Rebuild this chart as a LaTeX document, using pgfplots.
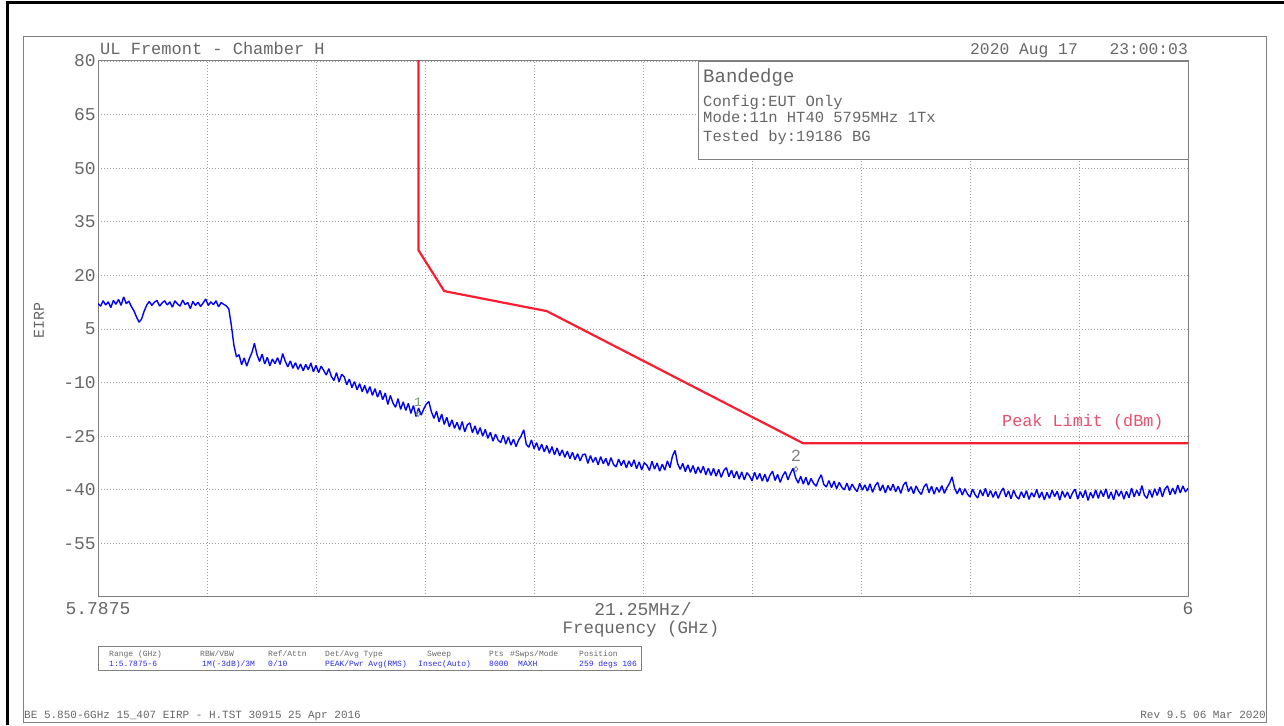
\documentclass[border=0pt]{standalone}
\usepackage{fontspec}
\setmainfont{Liberation Mono}
\usepackage{pgfplots}
\pgfplotsset{compat=1.18}

\definecolor{txtgray}{gray}{0.4}
\definecolor{framegray}{gray}{0.5}
\definecolor{limitred}{RGB}{250,30,50}
\definecolor{limittext}{RGB}{232,80,110}
\definecolor{tracecol}{RGB}{0,0,255}
\definecolor{tabblue}{RGB}{40,40,230}
\definecolor{mkgreen}{RGB}{120,150,110}

\newcommand{\fs}[1]{\fontsize{#1}{#1}\selectfont}

\begin{document}
\begin{tikzpicture}[x=1pt,y=1pt]
\useasboundingbox (0,0) rectangle (1284,725);
% page frame
\draw[black, line width=3pt] (7,0) -- (7,722) -- (1284,722);
\draw[framegray, line width=1pt] (23,3) rectangle (1266,688);

\begin{axis}[
    at={(98pt,128pt)}, anchor=south west,
    width=1090pt, height=536pt, scale only axis,
    xmin=5.7875, xmax=6, ymin=-70, ymax=80,
    xtick={5.7875,5.80875,5.83,5.85125,5.8725,5.89375,5.915,5.93625,5.9575,5.97875,6},
    xticklabels={5.7875,,,,,21.25MHz/,,,,,6},
    ytick={-55,-40,...,80},
    yticklabels={-55,-40,-25,-10,5,20,35,50,65,80},
    grid=major,
    major grid style={gray!75, line width=0.8pt, dash pattern=on 0.8pt off 2.2pt},
    major tick length=0pt,
    axis line style={framegray, line width=1pt},
    ticklabel style={font=\fs{18}, text=txtgray},
    xticklabel style={anchor=north, inner sep=0pt, yshift=-5pt},
    yticklabel style={anchor=east, inner sep=0pt, xshift=-2pt},
]
% measured trace
\addplot[tracecol, line width=1.4pt, line join=bevel] coordinates {
(5.7875,12.1)(5.7880,11.4)(5.7885,12.9)(5.7890,11.7)(5.7895,12.6)(5.7900,11.0)(5.7905,13.0)(5.7910,11.9)(5.7915,13.3)(5.7920,11.6)
(5.7925,14.0)(5.7930,12.1)(5.7935,12.8)(5.7940,11.3)(5.7945,10.1)(5.7950,8.4)(5.7955,6.9)(5.7960,7.8)(5.7965,10.0)(5.7970,11.7)
(5.7975,12.7)(5.7980,11.6)(5.7985,12.5)(5.7990,13.0)(5.7995,11.4)(5.8000,12.3)(5.8005,12.9)(5.8010,11.7)(5.8015,12.6)(5.8020,11.1)
(5.8025,12.9)(5.8030,12.0)(5.8035,11.4)(5.8040,13.1)(5.8045,11.8)(5.8050,12.4)(5.8055,10.7)(5.8060,12.7)(5.8065,11.6)(5.8070,12.5)
(5.8075,11.3)(5.8080,12.3)(5.8085,13.4)(5.8090,11.6)(5.8095,12.6)(5.8100,11.8)(5.8105,12.9)(5.8110,11.2)(5.8115,12.4)(5.8120,11.9)
(5.8125,11.5)(5.8130,10.6)(5.8135,6.0)(5.8140,0.4)(5.8145,-2.8)(5.8150,-2.2)(5.8155,-5.0)(5.8160,-3.1)(5.8165,-5.4)(5.8170,-3.3)
(5.8175,-1.6)(5.8180,1.0)(5.8185,-2.2)(5.8190,-4.1)(5.8195,-2.0)(5.8200,-4.8)(5.8205,-2.9)(5.8210,-5.3)(5.8215,-3.4)(5.8220,-4.7)
(5.8225,-3.0)(5.8230,-4.9)(5.8235,-1.9)(5.8240,-4.0)(5.8245,-5.6)(5.8250,-3.9)(5.8255,-6.0)(5.8260,-4.4)(5.8265,-6.3)(5.8270,-4.8)
(5.8275,-6.7)(5.8280,-4.9)(5.8285,-6.4)(5.8290,-4.5)(5.8295,-7.0)(5.8300,-5.2)(5.8305,-7.2)(5.8310,-5.4)(5.8315,-6.6)(5.8320,-7.9)
(5.8325,-6.1)(5.8330,-8.3)(5.8335,-9.4)(5.8340,-7.2)(5.8345,-9.8)(5.8350,-7.7)(5.8355,-8.4)(5.8360,-10.6)(5.8365,-9.0)(5.8370,-11.4)
(5.8375,-9.7)(5.8380,-12.0)(5.8385,-10.3)(5.8390,-12.5)(5.8395,-10.8)(5.8400,-13.0)(5.8405,-11.1)(5.8410,-13.6)(5.8415,-11.7)(5.8420,-14.1)
(5.8425,-12.2)(5.8430,-14.8)(5.8435,-12.9)(5.8440,-16.1)(5.8445,-13.6)(5.8450,-15.7)(5.8455,-16.9)(5.8460,-14.5)(5.8465,-17.5)(5.8470,-15.4)
(5.8475,-17.8)(5.8480,-15.8)(5.8485,-18.6)(5.8490,-16.4)(5.8495,-19.5)(5.8500,-17.1)(5.8505,-19.1)(5.8510,-17.4)(5.8515,-16.0)(5.8520,-15.3)
(5.8525,-18.2)(5.8530,-20.0)(5.8535,-18.0)(5.8540,-21.0)(5.8545,-18.8)(5.8550,-21.7)(5.8555,-19.7)(5.8560,-22.4)(5.8565,-20.4)(5.8570,-22.8)
(5.8575,-21.1)(5.8580,-23.3)(5.8585,-20.9)(5.8590,-23.8)(5.8595,-21.8)(5.8600,-21.3)(5.8605,-24.0)(5.8610,-22.1)(5.8615,-24.5)(5.8620,-22.6)
(5.8625,-25.0)(5.8630,-23.1)(5.8635,-25.6)(5.8640,-23.9)(5.8645,-26.4)(5.8650,-24.4)(5.8655,-26.1)(5.8660,-26.8)(5.8665,-24.7)(5.8670,-27.2)
(5.8675,-25.2)(5.8680,-27.5)(5.8685,-25.8)(5.8690,-27.9)(5.8695,-26.1)(5.8700,-24.9)(5.8705,-23.2)(5.8710,-27.3)(5.8715,-28.1)(5.8720,-26.0)
(5.8725,-28.5)(5.8730,-26.8)(5.8735,-29.0)(5.8740,-27.2)(5.8745,-29.4)(5.8750,-27.6)(5.8755,-29.8)(5.8760,-27.9)(5.8765,-30.2)(5.8770,-28.3)
(5.8775,-30.5)(5.8780,-28.8)(5.8785,-30.9)(5.8790,-29.2)(5.8795,-31.3)(5.8800,-29.5)(5.8805,-31.6)(5.8810,-29.9)(5.8815,-31.9)(5.8820,-30.2)
(5.8825,-30.0)(5.8830,-32.6)(5.8835,-30.4)(5.8840,-32.3)(5.8845,-30.9)(5.8850,-33.0)(5.8855,-30.7)(5.8860,-32.7)(5.8865,-31.2)(5.8870,-33.3)
(5.8875,-31.0)(5.8880,-32.9)(5.8885,-33.6)(5.8890,-31.4)(5.8895,-33.2)(5.8900,-31.7)(5.8905,-33.9)(5.8910,-31.9)(5.8915,-33.5)(5.8920,-31.6)
(5.8925,-34.1)(5.8930,-32.2)(5.8935,-34.4)(5.8940,-32.4)(5.8945,-33.1)(5.8950,-34.6)(5.8955,-32.0)(5.8960,-34.2)(5.8965,-32.5)(5.8970,-34.8)
(5.8975,-32.8)(5.8980,-34.5)(5.8985,-31.9)(5.8990,-33.8)(5.8995,-30.5)(5.9000,-29.0)(5.9005,-32.7)(5.9010,-34.3)(5.9015,-32.6)(5.9020,-34.9)
(5.9025,-33.0)(5.9030,-35.1)(5.9035,-33.2)(5.9040,-35.5)(5.9045,-33.6)(5.9050,-35.3)(5.9055,-33.4)(5.9060,-35.8)(5.9065,-33.9)(5.9070,-36.0)
(5.9075,-34.0)(5.9080,-36.2)(5.9085,-34.3)(5.9090,-36.5)(5.9095,-34.6)(5.9100,-33.8)(5.9105,-36.3)(5.9110,-34.5)(5.9115,-36.7)(5.9120,-34.8)
(5.9125,-37.0)(5.9130,-35.0)(5.9135,-37.2)(5.9140,-35.2)(5.9145,-36.1)(5.9150,-37.5)(5.9155,-35.1)(5.9160,-37.1)(5.9165,-35.4)(5.9170,-37.6)
(5.9175,-35.6)(5.9180,-37.8)(5.9185,-35.9)(5.9190,-34.8)(5.9195,-37.4)(5.9200,-35.7)(5.9205,-37.9)(5.9210,-36.0)(5.9215,-34.9)(5.9220,-37.2)
(5.9225,-35.4)(5.9230,-34.0)(5.9235,-36.6)(5.9240,-38.1)(5.9245,-36.2)(5.9250,-38.4)(5.9255,-36.5)(5.9260,-38.7)(5.9265,-36.8)(5.9270,-38.2)
(5.9275,-39.0)(5.9280,-37.1)(5.9285,-35.8)(5.9290,-38.5)(5.9295,-39.2)(5.9300,-37.4)(5.9305,-39.4)(5.9310,-37.6)(5.9315,-39.7)(5.9320,-37.9)
(5.9325,-39.3)(5.9330,-40.0)(5.9335,-38.1)(5.9340,-40.2)(5.9345,-38.4)(5.9350,-39.6)(5.9355,-40.5)(5.9360,-38.2)(5.9365,-40.1)(5.9370,-38.6)
(5.9375,-40.4)(5.9380,-38.3)(5.9385,-40.7)(5.9390,-38.9)(5.9395,-37.9)(5.9400,-40.3)(5.9405,-38.6)(5.9410,-40.9)(5.9415,-38.8)(5.9420,-40.2)
(5.9425,-38.4)(5.9430,-40.6)(5.9435,-39.0)(5.9440,-41.0)(5.9445,-38.7)(5.9450,-37.8)(5.9455,-40.5)(5.9460,-39.1)(5.9465,-41.1)(5.9470,-38.9)
(5.9475,-40.4)(5.9480,-41.3)(5.9485,-39.2)(5.9490,-38.3)(5.9495,-40.8)(5.9500,-39.0)(5.9505,-41.2)(5.9510,-39.3)(5.9515,-40.7)(5.9520,-38.8)
(5.9525,-41.0)(5.9530,-39.4)(5.9535,-38.2)(5.9540,-36.4)(5.9545,-39.6)(5.9550,-41.1)(5.9555,-39.5)(5.9560,-41.5)(5.9565,-39.7)(5.9570,-41.2)
(5.9575,-42.0)(5.9580,-39.8)(5.9585,-41.4)(5.9590,-42.3)(5.9595,-40.0)(5.9600,-41.7)(5.9605,-39.6)(5.9610,-41.9)(5.9615,-40.2)(5.9620,-42.1)
(5.9625,-40.4)(5.9630,-42.4)(5.9635,-40.6)(5.9640,-39.5)(5.9645,-42.0)(5.9650,-40.3)(5.9655,-42.5)(5.9660,-40.1)(5.9665,-41.8)(5.9670,-42.6)
(5.9675,-40.5)(5.9680,-42.2)(5.9685,-40.2)(5.9690,-42.7)(5.9695,-40.8)(5.9700,-42.0)(5.9705,-39.9)(5.9710,-42.3)(5.9715,-40.6)(5.9720,-42.8)
(5.9725,-40.7)(5.9730,-42.4)(5.9735,-40.1)(5.9740,-41.9)(5.9745,-40.4)(5.9750,-42.9)(5.9755,-40.3)(5.9760,-42.1)(5.9765,-40.6)(5.9770,-42.5)
(5.9775,-40.8)(5.9780,-39.8)(5.9785,-42.6)(5.9790,-40.5)(5.9795,-42.2)(5.9800,-40.1)(5.9805,-43.0)(5.9810,-40.7)(5.9815,-42.3)(5.9820,-40.0)
(5.9825,-42.4)(5.9830,-40.2)(5.9835,-41.9)(5.9840,-39.7)(5.9845,-42.5)(5.9850,-40.6)(5.9855,-42.8)(5.9860,-40.0)(5.9865,-41.8)(5.9870,-40.3)
(5.9875,-42.6)(5.9880,-40.4)(5.9885,-42.2)(5.9890,-39.5)(5.9895,-42.0)(5.9900,-40.1)(5.9905,-41.7)(5.9910,-38.8)(5.9915,-41.5)(5.9920,-42.4)
(5.9925,-40.0)(5.9930,-42.1)(5.9935,-39.7)(5.9940,-41.6)(5.9945,-39.3)(5.9950,-42.0)(5.9955,-39.8)(5.9960,-38.9)(5.9965,-41.4)(5.9970,-39.5)
(5.9975,-41.2)(5.9980,-38.7)(5.9985,-40.9)(5.9990,-38.9)(5.9995,-40.6)(6.0000,-39.6)
};
% peak limit
\addplot[limitred, line width=2.2pt] coordinates {
(5.850,85) (5.850,27) (5.855,15.6) (5.875,10) (5.925,-27) (6.000,-27)
};
% markers
\addplot[only marks, mark=diamond, mark size=2.5pt, draw=mkgreen, line width=0.8pt] coordinates {(5.8499,-18.8)};
\addplot[only marks, mark=diamond, mark size=2.5pt, draw=gray, line width=0.8pt] coordinates {(5.92358,-34.2)};
\node[font=\fs{13}, text=mkgreen] at (axis cs:5.8499,-15.4) {1};
\node[font=\fs{17}, text=gray] at (axis cs:5.92358,-30.6) {2};
\end{axis}

% header texts
\node[anchor=base west, inner sep=0pt, font=\fs{17}, text=txtgray] at (100,670) {UL Fremont - Chamber H};
\node[anchor=base east, inner sep=0pt, font=\fs{16.3}, text=txtgray] at (1078,670) {2020 Aug 17};
\node[anchor=base east, inner sep=0pt, font=\fs{16.3}, text=txtgray] at (1188,670) {23:00:03};

% info box
\draw[framegray, line width=0.9pt, fill=white] (698,664) rectangle (1188,566);
\node[anchor=base west, inner sep=0pt, font=\fs{19}, text=txtgray] at (703,642) {Bandedge};
\node[anchor=base west, inner sep=0pt, font=\fs{15.5}, text=txtgray] at (703,618) {Config:EUT Only};
\node[anchor=base west, inner sep=0pt, font=\fs{15.5}, text=txtgray] at (703,602) {Mode:11n HT40 5795MHz 1Tx};
\node[anchor=base west, inner sep=0pt, font=\fs{15.5}, text=txtgray] at (703,583) {Tested by:19186 BG};

% limit label
\node[anchor=base west, inner sep=0pt, font=\fs{16.8}, text=limittext] at (1002,298) {Peak Limit (dBm)};

% axis labels
\node[anchor=base, inner sep=0pt, font=\fs{17.4}, text=txtgray] at (641,91) {Frequency (GHz)};
\node[rotate=90, inner sep=0pt, font=\fs{15}, text=txtgray] at (39,404) {EIRP};

% settings table
\draw[framegray, line width=0.8pt] (98,79) rectangle (641,55);
\begin{scope}[every node/.style={anchor=base west, inner sep=0pt, font=\fs{8}}]
\node[text=txtgray] at (109,68) {Range (GHz)};
\node[text=txtgray] at (200,68) {RBW/VBW};
\node[text=txtgray] at (268,68) {Ref/Attn};
\node[text=txtgray] at (325,68) {Det/Avg Type};
\node[text=txtgray] at (427,68) {Sweep};
\node[text=txtgray] at (489,68) {Pts};
\node[text=txtgray] at (510,68) {\#Swps/Mode};
\node[text=txtgray] at (579,68) {Position};
\node[text=tabblue] at (109,58) {1:5.7875-6};
\node[text=tabblue] at (202,58) {1M(-3dB)/3M};
\node[text=tabblue] at (268,58) {0/10};
\node[text=tabblue] at (325,58) {PEAK/Pwr Avg(RMS)};
\node[text=tabblue] at (418,58) {Insec(Auto)};
\node[text=tabblue] at (489,58) {8000};
\node[text=tabblue] at (518,58) {MAXH};
\node[text=tabblue] at (579,58) {259 degs 106};
\end{scope}

% footer
\node[anchor=base west, inner sep=0pt, font=\fs{11}, text=txtgray] at (24,6) {BE 5.850-6GHz 15\_407 EIRP - H.TST 30915 25 Apr 2016};
\node[anchor=base east, inner sep=0pt, font=\fs{11}, text=txtgray] at (1266,6) {Rev 9.5 06 Mar 2020};
\end{tikzpicture}
\end{document}
